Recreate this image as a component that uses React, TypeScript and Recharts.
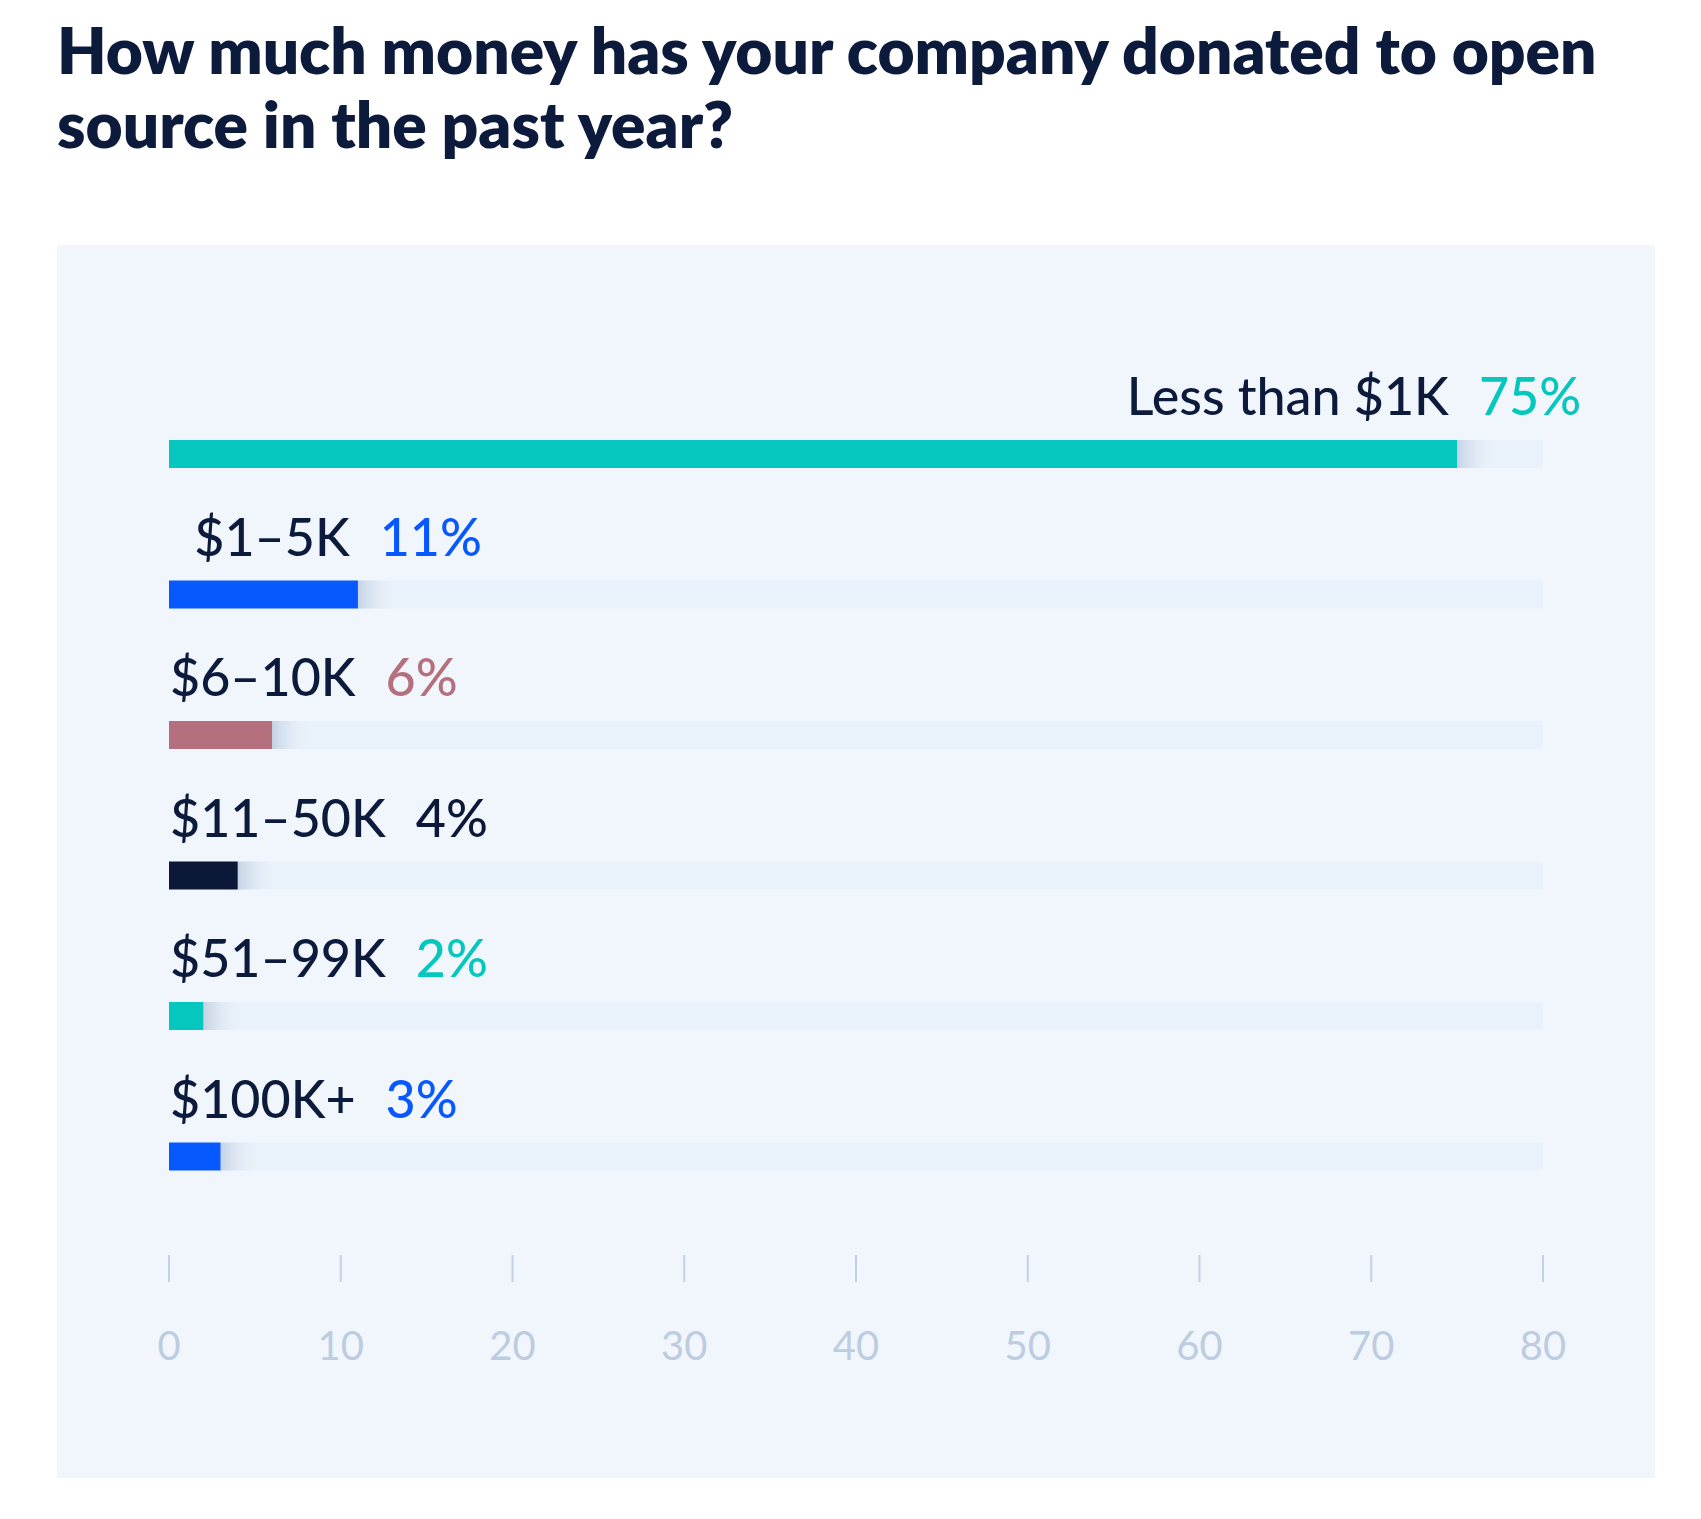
import React from 'react';
import { BarChart, Bar, XAxis, YAxis } from 'recharts';

const titleLines = ['How much money has your company donated to open', 'source in the past year?'];
const categories = ['Less than $1K', '$1–5K', '$6–10K', '$11–50K', '$51–99K', '$100K+'];
const values = [75, 11, 6, 4, 2, 3];
const barColors = ['#05C7BD', '#0858FF', '#B4707D', '#0B1838', '#05C7BD', '#0858FF'];
const xTicks = [0, 10, 20, 30, 40, 50, 60, 70, 80];

const data = categories.map((c, i) => ({ category: c, value: values[i], color: barColors[i] }));

const NAVY = '#0C1A3C';
const TRACK = '#E9F1FA';
const FONT = 'Lato, "Open Sans", sans-serif';

const BarShape = (props: any) => {
  const { x, y, width, height, index, payload } = props;
  const id = `fade-${index}`;
  const end = x + width;
  const anchorEnd = payload.value >= 10;
  const tx = anchorEnd ? end + 124 : x + 1;
  return (
    <g>
      <defs>
        <linearGradient id={id} x1="0" y1="0" x2="1" y2="0">
          <stop offset="0%" stopColor="#C3D1E3" stopOpacity={0.95} />
          <stop offset="100%" stopColor={TRACK} stopOpacity={0} />
        </linearGradient>
      </defs>
      <rect x={end} y={y} width={38} height={height} fill={`url(#${id})`} />
      <rect x={x} y={y} width={width} height={height} fill={payload.color} />
      <text
        x={tx}
        y={y - 25}
        textAnchor={anchorEnd ? 'end' : 'start'}
        fontFamily={FONT}
        fontSize={52}
        fontWeight={500}
        fill={NAVY}
      >
        <tspan>{payload.category}</tspan>
        <tspan dx={30} fill={payload.color}>{`${payload.value}%`}</tspan>
      </text>
    </g>
  );
};

const Tick = (props: any) => {
  const { x, y, payload } = props;
  return (
    <g>
      <line x1={x} x2={x} y1={y + 28} y2={y + 55} stroke="#C2D1E3" strokeWidth={2} />
      <text x={x} y={y + 133} textAnchor="middle" fontFamily={FONT} fontSize={40} fill="#BDCCE0">
        {payload.value}
      </text>
    </g>
  );
};

export default function App() {
  return (
    <div style={{ position: 'absolute', left: 0, top: 0, width: 1701, height: 1519, background: '#ffffff', overflow: 'hidden' }}>
      <svg width={1701} height={200} style={{ position: 'absolute', left: 0, top: 0 }}>
        {titleLines.map((t, i) => (
          <text key={i} x={57} y={74 + i * 74} fontFamily={FONT} fontWeight={800} fontSize={64} fill={NAVY}>
            {t}
          </text>
        ))}
      </svg>
      <div style={{ position: 'absolute', left: 57, top: 245, width: 1598, height: 1233, background: '#F1F6FD' }} />
      <div style={{ position: 'absolute', left: 0, top: 0 }}>
        <BarChart
          width={1701}
          height={1519}
          data={data}
          layout="vertical"
          margin={{ top: 384, right: 158, bottom: 142, left: 169 }}
          barSize={28}
        >
          <XAxis
            type="number"
            domain={[0, 80]}
            ticks={xTicks}
            axisLine={false}
            tickLine={false}
            tickSize={0}
            tickMargin={0}
            height={150}
            tick={<Tick />}
            interval={0}
          />
          <YAxis type="category" dataKey="category" hide width={0} />
          <Bar dataKey="value" isAnimationActive={false} background={{ fill: TRACK }} shape={<BarShape />} />
        </BarChart>
      </div>
    </div>
  );
}
